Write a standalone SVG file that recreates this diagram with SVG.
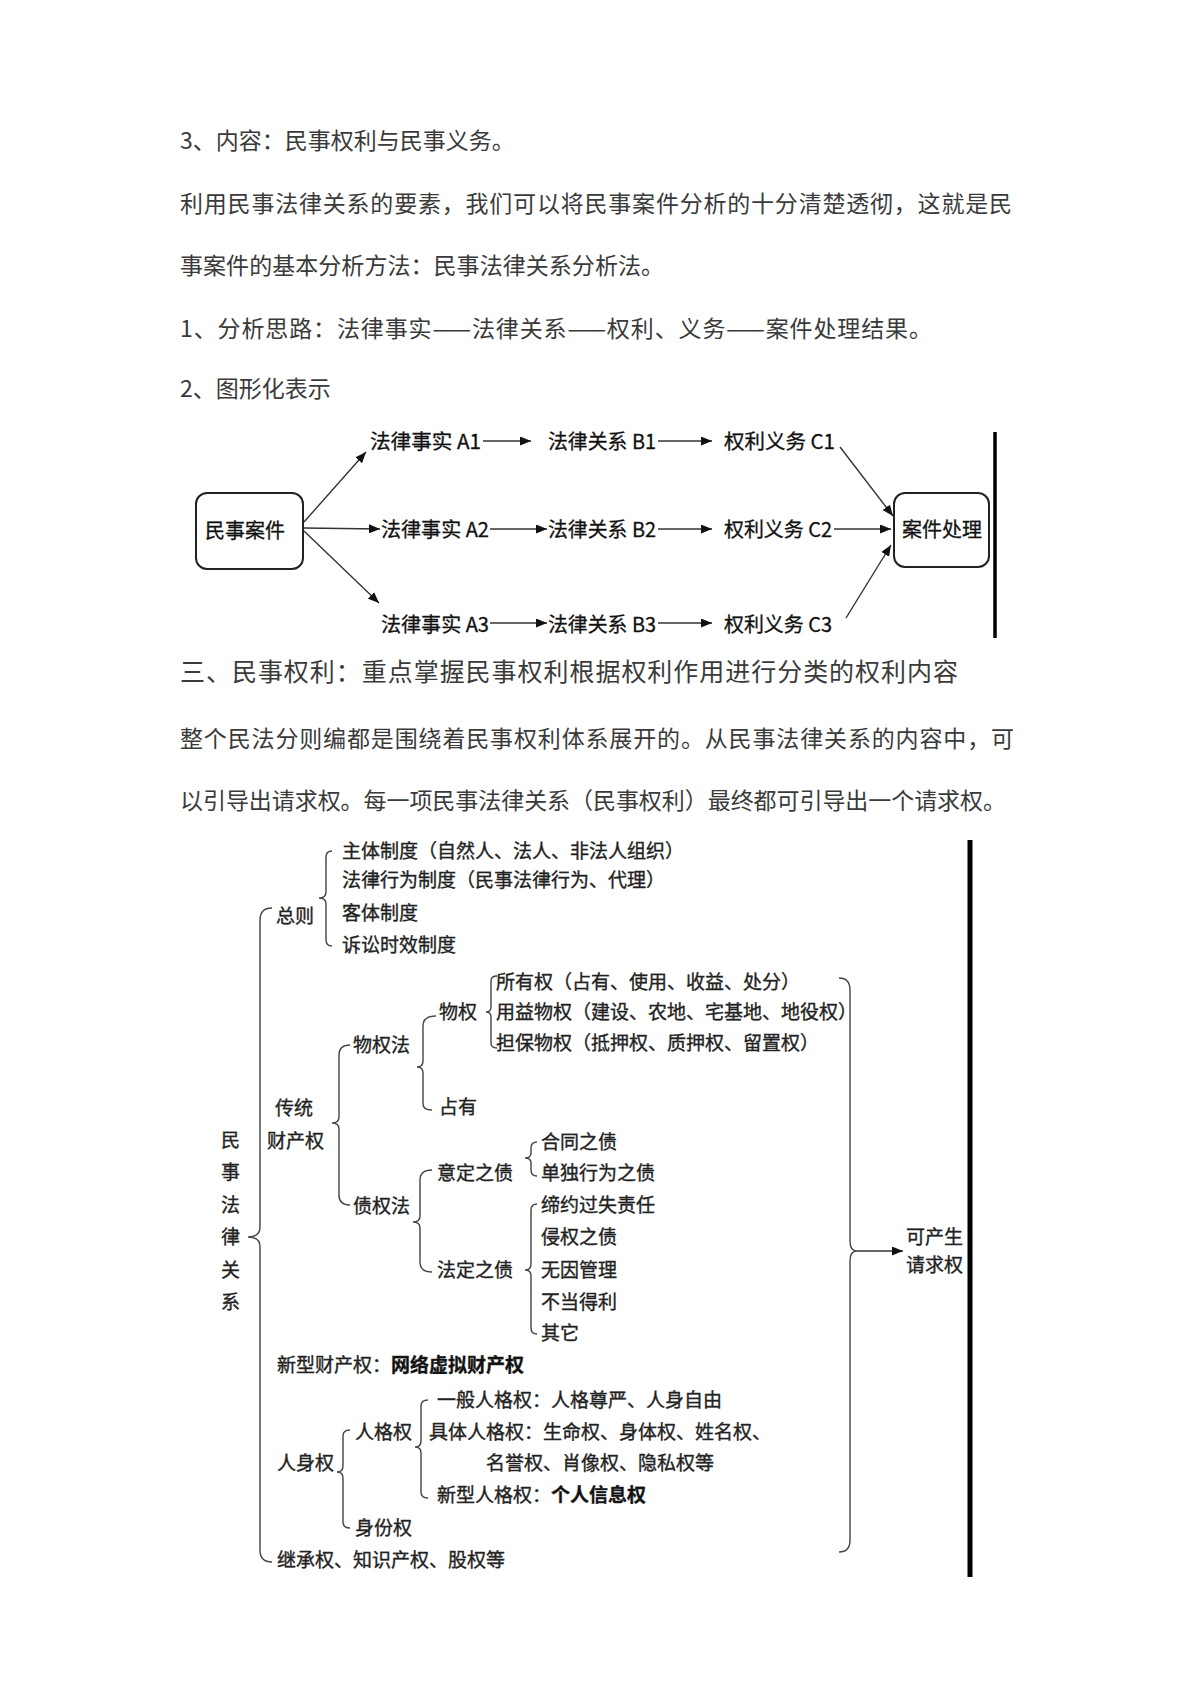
<svg xmlns="http://www.w3.org/2000/svg" width="1191" height="1684" viewBox="0 0 1191 1684">
<style>
.body{font-family:"Noto Sans CJK SC","Noto Sans",sans-serif;font-size:23px;fill:#3a3a3a}
.head{font-family:"Noto Sans CJK SC","Noto Sans",sans-serif;font-size:25px;fill:#3a3a3a}
.fc{font-family:"Noto Sans CJK SC","Noto Sans",sans-serif;font-size:20px;fill:#111;stroke:#111;stroke-width:0.3}
.tr{font-family:"Noto Sans CJK SC","Noto Sans",sans-serif;font-size:19px;fill:#222;stroke:#222;stroke-width:0.35}
.b{font-weight:bold;fill:#111}
.box{fill:#fff;stroke:#222;stroke-width:2}
.arr{fill:none;stroke:#333;stroke-width:1.4;marker-end:url(#ah)}
.brace{fill:none;stroke:#444;stroke-width:1.4}
.thick{stroke:#000;fill:none}
</style>
<defs>
<marker id="ah" markerUnits="userSpaceOnUse" markerWidth="11" markerHeight="9" refX="11" refY="4.5" orient="auto">
<path d="M0,0 L11,4.5 L0,9 z" fill="#111"/>
</marker>
</defs>
<rect width="1191" height="1684" fill="#fff"/>

<g id="text-top">
<text class="body" x="180" y="149">3、内容：民事权利与民事义务。</text>
<text class="body" x="180" y="212" textLength="832" lengthAdjust="spacing">利用民事法律关系的要素，我们可以将民事案件分析的十分清楚透彻，这就是民</text>
<text class="body" x="180" y="274" textLength="484" lengthAdjust="spacing">事案件的基本分析方法：民事法律关系分析法。</text>
<text class="body" x="180" y="337" textLength="752" lengthAdjust="spacing">1、分析思路：法律事实——法律关系——权利、义务——案件处理结果。</text>
<text class="body" x="180" y="397">2、图形化表示</text>
</g>

<g id="node-case"><rect class="box" x="196" y="493" width="107" height="76" rx="11"/><text class="fc" x="205" y="538">民事案件</text></g>
<g id="node-result"><rect class="box" x="894" y="493" width="95" height="74" rx="11"/><text class="fc" x="902" y="537">案件处理</text></g>
<g id="node-a1"><text class="fc" x="370" y="449" textLength="111" lengthAdjust="spacingAndGlyphs">法律事实 A1</text></g>
<g id="node-b1"><text class="fc" x="548" y="449" textLength="108" lengthAdjust="spacingAndGlyphs">法律关系 B1</text></g>
<g id="node-c1"><text class="fc" x="724" y="449" textLength="111" lengthAdjust="spacingAndGlyphs">权利义务 C1</text></g>
<g id="node-a2"><text class="fc" x="381" y="537" textLength="108" lengthAdjust="spacingAndGlyphs">法律事实 A2</text></g>
<g id="node-b2"><text class="fc" x="548" y="537" textLength="108" lengthAdjust="spacingAndGlyphs">法律关系 B2</text></g>
<g id="node-c2"><text class="fc" x="724" y="537" textLength="108" lengthAdjust="spacingAndGlyphs">权利义务 C2</text></g>
<g id="node-a3"><text class="fc" x="381" y="632" textLength="108" lengthAdjust="spacingAndGlyphs">法律事实 A3</text></g>
<g id="node-b3"><text class="fc" x="548" y="632" textLength="108" lengthAdjust="spacingAndGlyphs">法律关系 B3</text></g>
<g id="node-c3"><text class="fc" x="724" y="632" textLength="108" lengthAdjust="spacingAndGlyphs">权利义务 C3</text></g>

<g id="connectors-flow">
<line class="arr" x1="304" y1="522" x2="366" y2="452"/>
<line class="arr" x1="304" y1="528" x2="380" y2="529"/>
<line class="arr" x1="304" y1="531" x2="379" y2="603"/>
<line class="arr" x1="483" y1="441" x2="531" y2="441"/>
<line class="arr" x1="658" y1="441" x2="712" y2="441"/>
<line class="arr" x1="490" y1="529" x2="547" y2="529"/>
<line class="arr" x1="658" y1="529" x2="712" y2="529"/>
<line class="arr" x1="834" y1="529" x2="891" y2="529"/>
<line class="arr" x1="490" y1="623" x2="547" y2="623"/>
<line class="arr" x1="658" y1="623" x2="712" y2="623"/>
<line class="arr" x1="840" y1="447" x2="893" y2="516"/>
<line class="arr" x1="846" y1="618" x2="891" y2="545"/>
<line class="thick" x1="995" y1="432" x2="995" y2="638" stroke-width="3.5"/>
</g>

<g id="text-mid">
<text class="head" x="180" y="681" textLength="778" lengthAdjust="spacing">三、民事权利：重点掌握民事权利根据权利作用进行分类的权利内容</text>
<text class="body" x="180" y="747" textLength="834" lengthAdjust="spacing">整个民法分则编都是围绕着民事权利体系展开的。从民事法律关系的内容中，可</text>
<text class="body" x="180" y="809" textLength="826" lengthAdjust="spacing">以引导出请求权。每一项民事法律关系（民事权利）最终都可引导出一个请求权。</text>
</g>

<g id="node-root">
<text class="tr" x="221" y="1147">民</text>
<text class="tr" x="221" y="1179">事</text>
<text class="tr" x="221" y="1212">法</text>
<text class="tr" x="221" y="1244">律</text>
<text class="tr" x="221" y="1277">关</text>
<text class="tr" x="221" y="1309">系</text>
</g>
<g id="node-zongze"><text class="tr" x="276" y="923">总则</text></g>
<g id="node-zt"><text class="tr" x="342" y="858">主体制度（自然人、法人、非法人组织）</text></g>
<g id="node-fl"><text class="tr" x="342" y="887">法律行为制度（民事法律行为、代理）</text></g>
<g id="node-kt"><text class="tr" x="342" y="920">客体制度</text></g>
<g id="node-ss"><text class="tr" x="342" y="952">诉讼时效制度</text></g>
<g id="node-ct"><text class="tr" x="275" y="1115">传统</text><text class="tr" x="267" y="1148">财产权</text></g>
<g id="node-wqf"><text class="tr" x="353" y="1052">物权法</text></g>
<g id="node-wq"><text class="tr" x="439" y="1019">物权</text></g>
<g id="node-syq"><text class="tr" x="496" y="989">所有权（占有、使用、收益、处分）</text></g>
<g id="node-yy"><text class="tr" x="496" y="1019">用益物权（建设、农地、宅基地、地役权）</text></g>
<g id="node-db"><text class="tr" x="496" y="1050">担保物权（抵押权、质押权、留置权）</text></g>
<g id="node-zy"><text class="tr" x="439" y="1114">占有</text></g>
<g id="node-zqf"><text class="tr" x="353" y="1213">债权法</text></g>
<g id="node-yd"><text class="tr" x="437" y="1180">意定之债</text></g>
<g id="node-ht"><text class="tr" x="541" y="1149">合同之债</text></g>
<g id="node-dd"><text class="tr" x="541" y="1180">单独行为之债</text></g>
<g id="node-fd"><text class="tr" x="437" y="1277">法定之债</text></g>
<g id="node-dy"><text class="tr" x="541" y="1212">缔约过失责任</text></g>
<g id="node-qq"><text class="tr" x="541" y="1244">侵权之债</text></g>
<g id="node-wy"><text class="tr" x="541" y="1277">无因管理</text></g>
<g id="node-bd"><text class="tr" x="541" y="1309">不当得利</text></g>
<g id="node-qt"><text class="tr" x="541" y="1340">其它</text></g>
<g id="node-xx"><text class="tr" x="277" y="1372">新型财产权：<tspan class="b">网络虚拟财产权</tspan></text></g>
<g id="node-rgq"><text class="tr" x="355" y="1439">人格权</text></g>
<g id="node-yb"><text class="tr" x="437" y="1407">一般人格权：人格尊严、人身自由</text></g>
<g id="node-jt"><text class="tr" x="429" y="1439">具体人格权：生命权、身体权、姓名权、</text><text class="tr" x="486" y="1470">名誉权、肖像权、隐私权等</text></g>
<g id="node-xrg"><text class="tr" x="437" y="1502">新型人格权：<tspan class="b">个人信息权</tspan></text></g>
<g id="node-rsq"><text class="tr" x="277" y="1470">人身权</text></g>
<g id="node-sf"><text class="tr" x="355" y="1535">身份权</text></g>
<g id="node-jc"><text class="tr" x="277" y="1567">继承权、知识产权、股权等</text></g>
<g id="node-qqq"><text class="tr" x="906" y="1244" font-size="18">可产生</text><text class="tr" x="906" y="1272" font-size="18">请求权</text></g>

<g id="connectors-tree">
<path class="brace" d="M272,908 Q260,908 260,920 L260,1227 Q260,1237 248,1237 Q260,1237 260,1247 L260,1550 Q260,1562 272,1562"/>
<path class="brace" d="M332,851 Q326,851 326,857 L326,892 Q326,898 319,898 Q326,898 326,904 L326,940 Q326,946 332,946"/>
<path class="brace" d="M497,976 Q491,976 491,981 L491,1007 Q491,1012 486,1012 Q491,1012 491,1017 L491,1043 Q491,1048 497,1048"/>
<path class="brace" d="M436,1016 Q423,1016 423,1026 L423,1061 Q423,1067 417,1067 Q423,1067 423,1073 L423,1104 Q423,1110 432,1110"/>
<path class="brace" d="M350,1045 Q339,1045 339,1055 L339,1117 Q339,1123 332,1123 Q339,1123 339,1129 L339,1195 Q339,1205 350,1205"/>
<path class="brace" d="M432,1170 Q420,1170 420,1180 L420,1216 Q420,1222 413,1222 Q420,1222 420,1228 L420,1262 Q420,1272 432,1272"/>
<path class="brace" d="M537,1142 Q531,1142 531,1148 L531,1153 Q531,1158 525,1158 Q531,1158 531,1163 L531,1170 Q531,1176 537,1176"/>
<path class="brace" d="M537,1204 Q531,1204 531,1210 L531,1264 Q531,1270 525,1270 Q531,1270 531,1276 L531,1328 Q531,1334 537,1334"/>
<path class="brace" d="M428,1400 Q421,1400 421,1406 L421,1441 Q421,1447 415,1447 Q421,1447 421,1453 L421,1492 Q421,1498 428,1498"/>
<path class="brace" d="M350,1430 Q343,1430 343,1436 L343,1466 Q343,1472 337,1472 Q343,1472 343,1478 L343,1522 Q343,1528 350,1528"/>
<path class="brace" d="M839,978 Q850,978 850,990 L850,1241 Q850,1251 857,1251 Q850,1251 850,1261 L850,1540 Q850,1552 839,1552"/>
<line class="arr" x1="857" y1="1251" x2="903" y2="1251"/>
<line class="thick" x1="970" y1="840" x2="970" y2="1577" stroke-width="5"/>
</g>
</svg>
